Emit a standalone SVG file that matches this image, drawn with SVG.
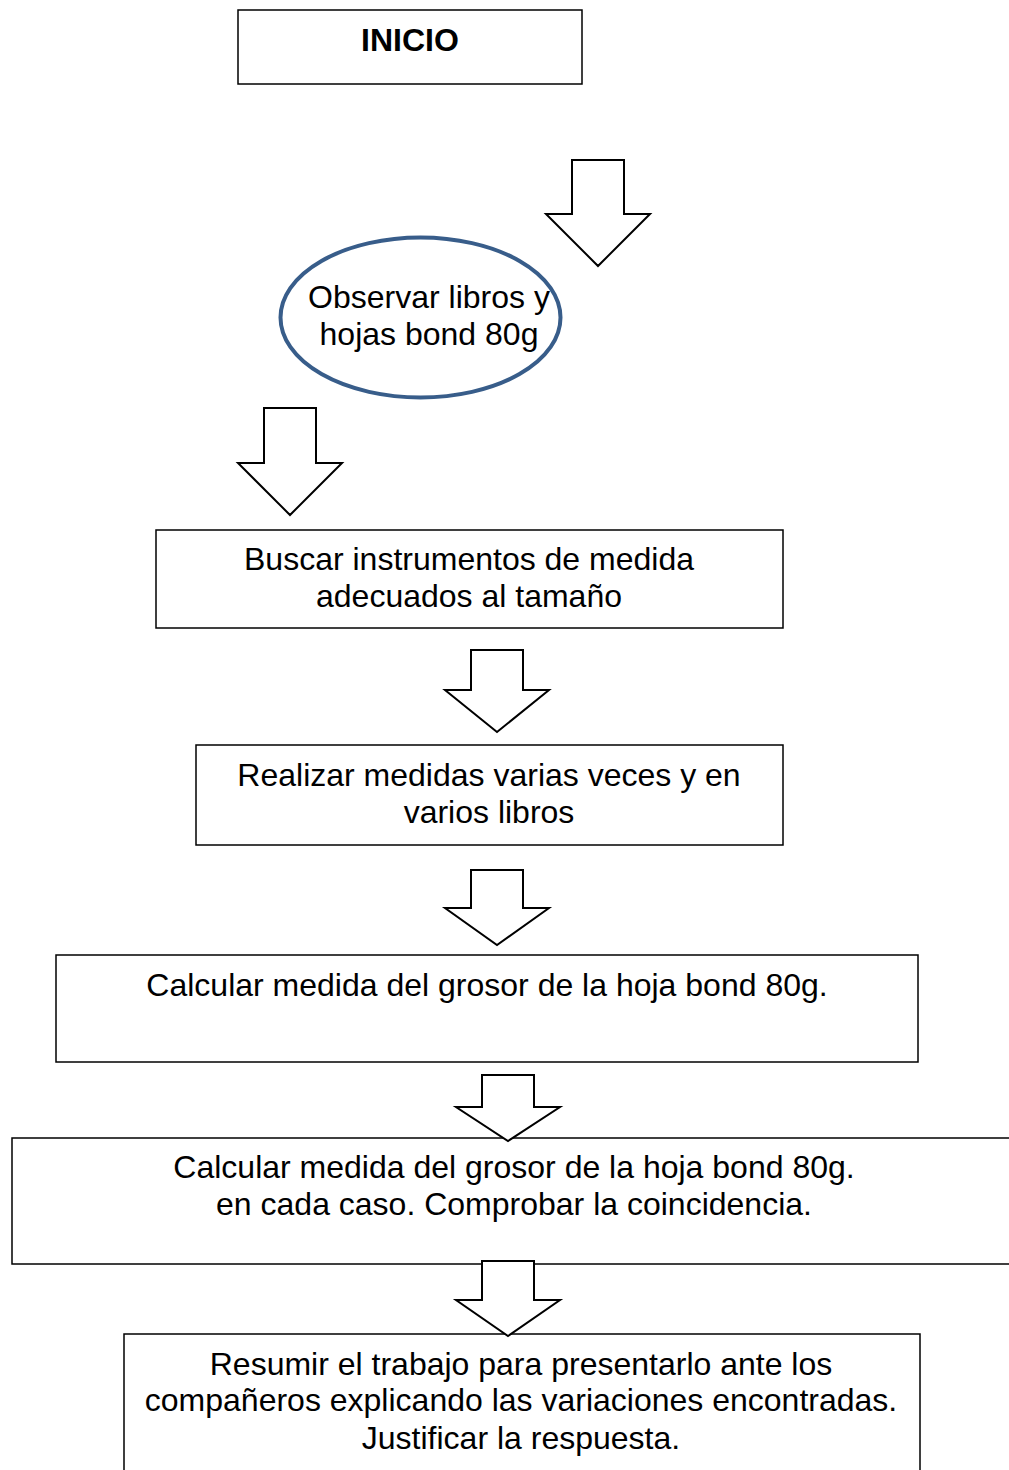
<svg xmlns="http://www.w3.org/2000/svg" width="1009" height="1470" viewBox="0 0 1009 1470">
  <style>
    .box { fill: #ffffff; stroke: #000000; stroke-width: 1.5; }
    .oval { fill: #ffffff; stroke: #385d8a; stroke-width: 4; }
    .arrow { fill: #ffffff; stroke: #000000; stroke-width: 2; stroke-linejoin: miter; }
    .t { font-family: "Liberation Sans", Arial, sans-serif; font-size: 32px; fill: #000000; text-anchor: middle; }
    .b { font-weight: bold; }
  </style>
  <rect width="1009" height="1470" fill="#ffffff"/>

  <!-- block arrows between steps -->
  <g id="connectors">
    <path class="arrow" d="M572,160 H624 V214 H650 L598,266 L546,214 H572 Z"/>
    <path class="arrow" d="M264,408 H316 V463 H342 L290,515 L238,463 H264 Z"/>
    <path class="arrow" d="M471,650 H523 V690 H549 L497,732 L445,690 H471 Z"/>
    <path class="arrow" d="M471,870 H523 V908 H549 L497,945 L445,908 H471 Z"/>
  </g>

  <g id="inicio">
    <rect class="box" x="238" y="10" width="344" height="74"/>
    <text class="t b" x="410" y="51">INICIO</text>
  </g>

  <g id="observar">
    <ellipse class="oval" cx="420.5" cy="317.5" rx="140" ry="80"/>
    <text class="t" x="429" y="308">Observar libros y</text>
    <text class="t" x="429" y="345">hojas bond 80g</text>
  </g>

  <g id="buscar">
    <rect class="box" x="156" y="530" width="627" height="98"/>
    <text class="t" x="469" y="570">Buscar instrumentos de medida</text>
    <text class="t" x="469" y="607">adecuados al tamaño</text>
  </g>

  <g id="realizar">
    <rect class="box" x="196" y="745" width="587" height="100"/>
    <text class="t" x="489" y="786">Realizar medidas varias veces y en</text>
    <text class="t" x="489" y="823">varios libros</text>
  </g>

  <g id="calcular1">
    <rect class="box" x="56" y="955" width="862" height="107"/>
    <text class="t" x="487" y="996">Calcular medida del grosor de la hoja bond 80g.</text>
  </g>

  <g id="calcular2">
    <rect class="box" x="12" y="1138" width="1010" height="126"/>
    <text class="t" x="514" y="1178">Calcular medida del grosor de la hoja bond 80g.</text>
    <text class="t" x="514" y="1215">en cada caso. Comprobar la coincidencia.</text>
  </g>

  <g id="resumir">
    <rect class="box" x="124" y="1334" width="796" height="150"/>
    <text class="t" x="521" y="1375">Resumir el trabajo para presentarlo ante los</text>
    <text class="t" x="521" y="1411">compañeros explicando las variaciones encontradas.</text>
    <text class="t" x="521" y="1449">Justificar la respuesta.</text>
  </g>

  <!-- these two arrows overlap the box edges, so they sit on top -->
  <g id="connectors-front">
    <path class="arrow" d="M482,1075 H534 V1107 H560 L508,1141 L456,1107 H482 Z"/>
    <path class="arrow" d="M482,1261 H534 V1300 H560 L508,1336 L456,1300 H482 Z"/>
  </g>
</svg>
